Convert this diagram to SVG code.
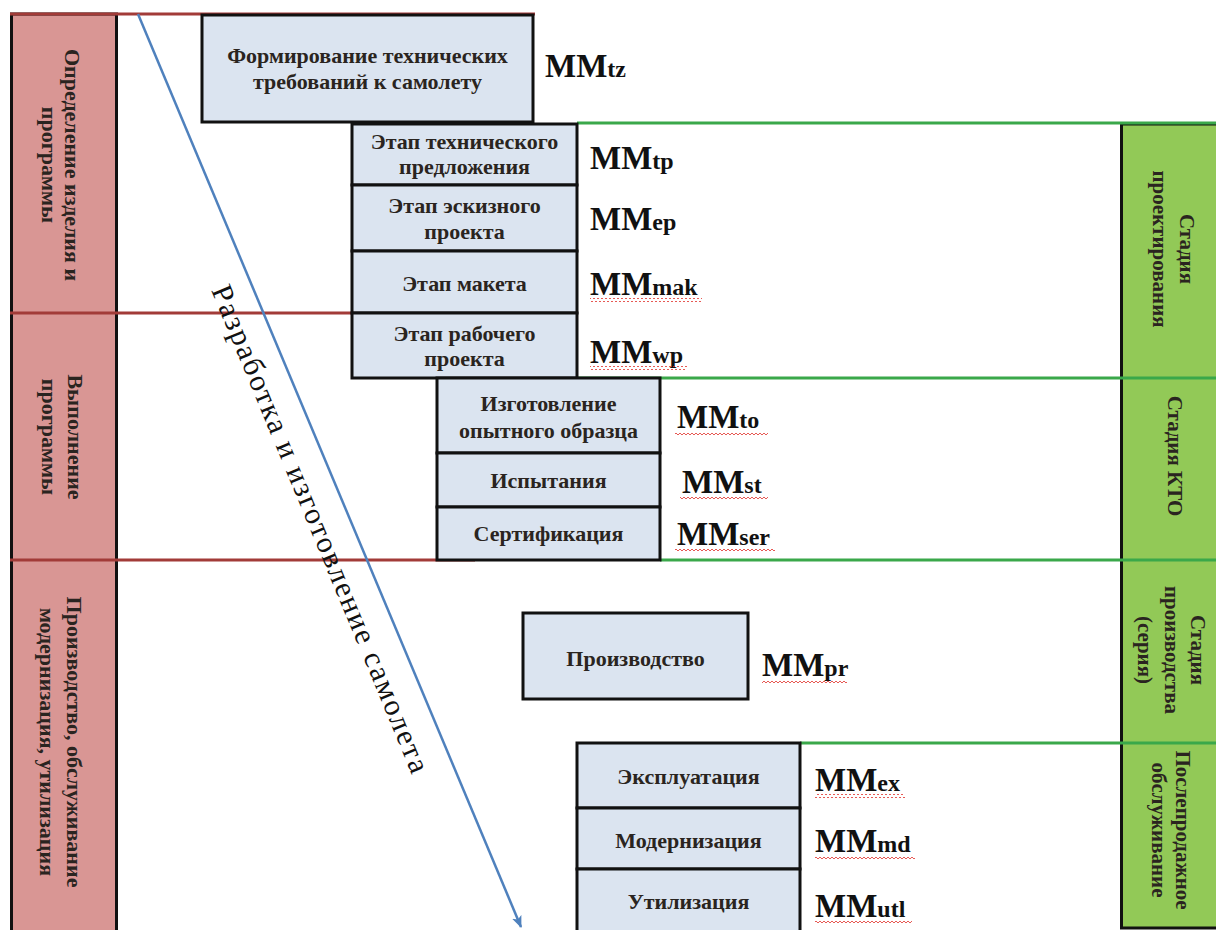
<svg xmlns="http://www.w3.org/2000/svg" width="1216" height="930" viewBox="0 0 1216 930">
<style>
.box{fill:#dbe4f0;stroke:#111;stroke-width:3}
.bt{font-family:"Liberation Serif",serif;font-weight:bold;font-size:22px;fill:#2a2420;text-anchor:middle}
.mm{font-family:"Liberation Serif",serif;font-weight:bold;font-size:33px;fill:#111}
.sub{font-size:24px}
.side{font-family:"Liberation Serif",serif;font-weight:bold;font-size:21px;fill:#2a2420;text-anchor:middle}
.side2{font-size:22px}
.red{stroke:#a23b38;stroke-width:3;fill:none}
.grn{stroke:#3aa84a;stroke-width:3;fill:none}
.dia{font-family:"Liberation Serif",serif;font-size:30px;fill:#111}
.wv{fill:url(#wave)}
</style>
<defs>
<pattern id="wave" width="4" height="4" patternUnits="userSpaceOnUse">
<path d="M0 1 L2 3 L4 1" stroke="#e0302a" stroke-width="0.8" fill="none"/>
</pattern>
<marker id="arr" viewBox="0 0 12 10" refX="11" refY="5" markerWidth="12" markerHeight="10" markerUnits="userSpaceOnUse" orient="auto">
<path d="M0 0 L12 5 L0 10 L3 5 Z" fill="#4f81bd"/>
</marker>
</defs>

<g id="left-column">
<rect x="11.5" y="14" width="105" height="920" fill="#d99694" stroke="#111" stroke-width="3"/>
</g>
<g id="right-column">
<rect x="1121.5" y="124" width="100" height="804" fill="#92c957" stroke="#111" stroke-width="3"/>
</g>

<g id="connectors">
<line class="red" x1="10" y1="14" x2="535" y2="14"/>
<line class="red" x1="10" y1="313" x2="352" y2="313"/>
<line class="red" x1="10" y1="560" x2="475" y2="560"/>
<line class="grn" x1="577" y1="123" x2="1216" y2="123"/>
<line class="grn" x1="577" y1="378" x2="1216" y2="378"/>
<line class="grn" x1="660" y1="560" x2="1216" y2="560"/>
<line class="grn" x1="800" y1="743" x2="1216" y2="743"/>
<line x1="138" y1="14" x2="521" y2="927" stroke="#4f81bd" stroke-width="2.5" marker-end="url(#arr)"/>
</g>

<g id="label-left-1">
<text class="side side2" transform="translate(0,165) rotate(90)" y="-65">Определение изделия и</text>
<text class="side side2" transform="translate(0,165) rotate(90)" y="-42">программы</text>
</g>
<g id="label-left-2">
<text class="side side2" transform="translate(0,437) rotate(90)" y="-68">Выполнение</text>
<text class="side side2" transform="translate(0,437) rotate(90)" y="-42">программы</text>
</g>
<g id="label-left-3">
<text class="side side2" transform="translate(0,742) rotate(90)" y="-67">Производство, обслуживание</text>
<text class="side side2" transform="translate(0,742) rotate(90)" y="-40">модернизация, утилизация</text>
</g>

<g id="label-right-1">
<text class="side" transform="translate(0,249) rotate(90)" y="-1180">Стадия</text>
<text class="side" transform="translate(0,249) rotate(90)" y="-1153">проектирования</text>
</g>
<g id="label-right-2">
<text class="side" transform="translate(0,456) rotate(90)" y="-1168">Стадия КТО</text>
</g>
<g id="label-right-3">
<text class="side" transform="translate(0,650) rotate(90)" y="-1191">Стадия</text>
<text class="side" transform="translate(0,650) rotate(90)" y="-1165">производства</text>
<text class="side" transform="translate(0,650) rotate(90)" y="-1138">(серия)</text>
</g>
<g id="label-right-4">
<text class="side" transform="translate(0,830) rotate(90)" y="-1176">Послепродажное</text>
<text class="side" transform="translate(0,830) rotate(90)" y="-1152">обслуживание</text>
</g>

<g id="diagonal-label">
<text class="dia" transform="translate(211,290) rotate(67.5)" textLength="525">Разработка и изготовление самолета</text>
</g>

<g id="node-tz">
<rect class="box" x="202" y="15" width="331" height="107"/>
<text class="bt" x="367.5" y="63">Формирование технических</text>
<text class="bt" x="367.5" y="89">требований к самолету</text>
<text class="mm" x="545" y="77">MM<tspan class="sub">tz</tspan></text>
</g>
<g id="node-tp">
<rect class="box" x="352" y="124" width="225" height="61"/>
<text class="bt" x="464.5" y="149">Этап технического</text>
<text class="bt" x="464.5" y="174">предложения</text>
<text class="mm" x="590" y="169">MM<tspan class="sub">tp</tspan></text>
</g>
<g id="node-ep">
<rect class="box" x="352" y="185" width="225" height="66"/>
<text class="bt" x="464.5" y="213">Этап эскизного</text>
<text class="bt" x="464.5" y="239">проекта</text>
<text class="mm" x="590" y="230">MM<tspan class="sub">ep</tspan></text>
</g>
<g id="node-mak">
<rect class="box" x="352" y="251" width="225" height="62"/>
<text class="bt" x="464.5" y="291">Этап макета</text>
<text class="mm" x="590" y="295">MM<tspan class="sub">mak</tspan></text>
<rect class="wv" x="590" y="298" width="112" height="4"/>
</g>
<g id="node-wp">
<rect class="box" x="352" y="313" width="225" height="65"/>
<text class="bt" x="464.5" y="341">Этап рабочего</text>
<text class="bt" x="464.5" y="366">проекта</text>
<text class="mm" x="590" y="363">MM<tspan class="sub">wp</tspan></text>
<rect class="wv" x="590" y="366" width="97" height="4"/>
</g>
<g id="node-to">
<rect class="box" x="437" y="378" width="223" height="75"/>
<text class="bt" x="548.5" y="411">Изготовление</text>
<text class="bt" x="548.5" y="438">опытного образца</text>
<text class="mm" x="677" y="428">MM<tspan class="sub">to</tspan></text>
<rect class="wv" x="675" y="431" width="93" height="4"/>
</g>
<g id="node-st">
<rect class="box" x="437" y="453" width="223" height="54"/>
<text class="bt" x="548.5" y="488">Испытания</text>
<text class="mm" x="682" y="493">MM<tspan class="sub">st</tspan></text>
<rect class="wv" x="680" y="496" width="88" height="4"/>
</g>
<g id="node-ser">
<rect class="box" x="437" y="507" width="223" height="53"/>
<text class="bt" x="548.5" y="541">Сертификация</text>
<text class="mm" x="677" y="545">MM<tspan class="sub">ser</tspan></text>
<rect class="wv" x="675" y="548" width="100" height="4"/>
</g>
<g id="node-pr">
<rect class="box" x="523" y="613" width="225" height="86"/>
<text class="bt" x="635.5" y="666">Производство</text>
<text class="mm" x="762" y="676">MM<tspan class="sub">pr</tspan></text>
<rect class="wv" x="762" y="679" width="85" height="4"/>
</g>
<g id="node-ex">
<rect class="box" x="577" y="743" width="223" height="65"/>
<text class="bt" x="688.5" y="784">Эксплуатация</text>
<text class="mm" x="815" y="791">MM<tspan class="sub">ex</tspan></text>
<rect class="wv" x="815" y="794" width="90" height="4"/>
</g>
<g id="node-md">
<rect class="box" x="577" y="808" width="223" height="61"/>
<text class="bt" x="688.5" y="848">Модернизация</text>
<text class="mm" x="815" y="852">MM<tspan class="sub">md</tspan></text>
<rect class="wv" x="815" y="855" width="100" height="4"/>
</g>
<g id="node-utl">
<rect class="box" x="577" y="869" width="223" height="70"/>
<text class="bt" x="688.5" y="909">Утилизация</text>
<text class="mm" x="815" y="917">MM<tspan class="sub">utl</tspan></text>
<rect class="wv" x="815" y="920" width="97" height="4"/>
</g>
</svg>
